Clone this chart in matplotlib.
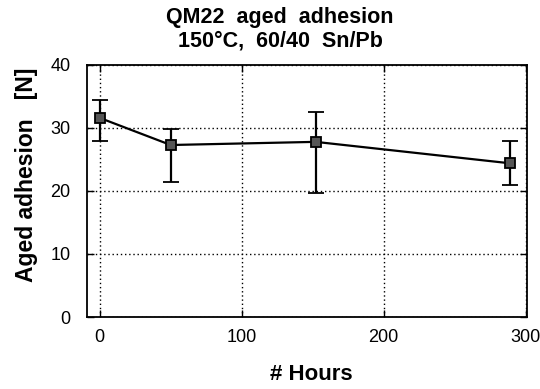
import matplotlib
matplotlib.use("Agg")
import matplotlib.pyplot as plt

hours = [0, 50, 152, 289]
adhesion = [31.6, 27.3, 27.8, 24.4]
err_upper = [34.4, 29.8, 32.5, 28.0]
err_lower = [28.0, 21.5, 19.7, 21.0]
x_ticks = [0, 100, 200, 300]
y_ticks = [0, 10, 20, 30, 40]

plt.rcParams['font.family'] = ['Liberation Sans', 'DejaVu Sans']

fig = plt.figure(figsize=(5.4, 3.89), dpi=100)
ax = fig.add_axes([87/540, 1-317/389, 440/540, 252/389])

yerr = [[a - l for a, l in zip(adhesion, err_lower)],
        [u - a for a, u in zip(adhesion, err_upper)]]
ax.errorbar(hours, adhesion, yerr=yerr, color='black', lw=1.6, elinewidth=1.6,
            capsize=5.5, capthick=1.6, marker='s', markersize=7,
            markerfacecolor='#555555', markeredgecolor='black', markeredgewidth=1.3, zorder=3)

ax.set_xlim(-9, 301)
ax.set_ylim(0, 40)
ax.set_xticks(x_ticks)
ax.set_yticks(y_ticks)
ax.grid(True, linestyle=(0, (1, 2)), color='black', linewidth=1.0)
ax.tick_params(direction='in', length=5, width=1, top=True, right=True, labelsize=13)
ax.tick_params(axis='x', pad=9)
ax.tick_params(axis='y', pad=12)
for s in ax.spines.values():
    s.set_linewidth(1.3)

fig.text(280/540, 1-18/389, 'QM22  aged  adhesion', ha='center', va='center', fontsize=15.5, fontweight='bold')
fig.text(280/540, 1-41/389, '150°C,  60/40  Sn/Pb', ha='center', va='center', fontsize=15.5, fontweight='bold')
fig.text(27/540, 1-175/389, 'Aged adhesion   [N]', ha='center', va='center', rotation=90, fontsize=16.5, fontweight='bold')
fig.text(311/540, 1-375/389, '# Hours', ha='center', va='center', fontsize=16, fontweight='bold')

fig.savefig('out.png', dpi=100)
